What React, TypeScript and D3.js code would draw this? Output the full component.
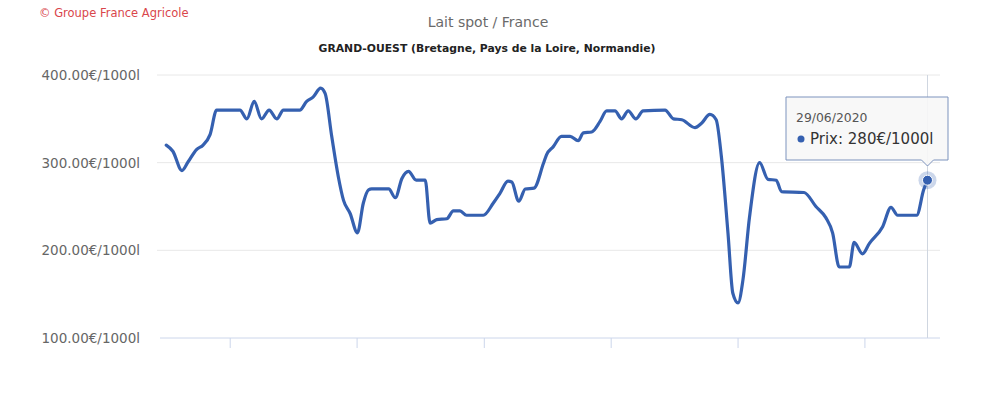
import React from "react";
import * as d3 from "d3";

const dates: string[] = [
  "2014-07-01","2014-07-20","2014-08-15","2014-09-02","2014-09-26","2014-10-15","2014-11-04","2014-11-23",
  "2015-01-29","2015-02-18","2015-03-11","2015-04-01","2015-04-23","2015-05-15","2015-06-03","2015-07-20",
  "2015-08-09","2015-08-28","2015-09-18","2015-10-01","2015-10-20","2015-11-08","2015-11-23","2015-12-12",
  "2016-01-02","2016-01-19","2016-02-03","2016-02-12","2016-04-01","2016-04-20","2016-05-09","2016-05-28",
  "2016-06-19","2016-07-15","2016-07-29","2016-08-17","2016-09-15","2016-10-04","2016-10-23","2016-11-11",
  "2016-12-29","2017-01-27","2017-02-15","2017-03-10","2017-03-21","2017-04-10","2017-04-29","2017-05-24",
  "2017-06-20","2017-06-29","2017-07-18","2017-08-11","2017-09-05","2017-09-28","2017-10-13","2017-11-06",
  "2017-11-30","2017-12-19","2018-01-12","2018-01-31","2018-02-19","2018-03-13","2018-04-03","2018-06-05",
  "2018-06-29","2018-07-23","2018-08-30","2018-09-18","2018-10-12","2018-10-30","2018-11-14","2018-12-03",
  "2018-12-17","2019-01-01","2019-01-15","2019-02-03","2019-03-04","2019-03-28","2019-04-21","2019-05-06",
  "2019-07-10","2019-08-13","2019-09-11","2019-09-30","2019-10-19","2019-11-17","2019-12-01","2019-12-25",
  "2020-01-14","2020-02-21","2020-03-16","2020-04-04","2020-05-29","2020-06-18","2020-06-29",
];

const prices: number[] = [
  320, 313, 291, 301, 315, 320, 332, 360,
  360, 350, 370, 350, 360, 350, 360, 360,
  370, 375, 385, 379, 330, 284, 257, 242,
  220, 254, 269, 270, 270, 260, 282, 290,
  280, 280, 231, 235, 236, 245, 245, 240,
  240, 254, 265, 279, 278, 256, 270, 271,
  299, 309, 318, 330, 330, 325, 334, 335,
  347, 359, 359, 350, 359, 350, 359, 360,
  350, 349, 340, 345, 355, 349, 307, 220,
  151, 140, 166, 238, 300, 281, 280, 267,
  266, 250, 237, 220, 181, 181, 209, 196,
  208, 227, 249, 240, 240, 269, 280,
];

const yTicks: number[] = [100, 200, 300, 400];
const xTickYears: number[] = [2015, 2016, 2017, 2018, 2019, 2020];
const xDomain: string[] = ["2014-06-13", "2020-08-04"];

const titleText = "Lait spot / France";
const subtitleText = "GRAND-OUEST (Bretagne, Pays de la Loire, Normandie)";
const creditText = "© Groupe France Agricole";
const tooltipDate = "29/06/2020";
const tooltipLabel = "Prix: 280€/1000l";

const W = 1000;
const H = 407;
const left = 160;
const right = 940;
const top = 75;
const bottom = 338;

export default function App() {
  const parse = d3.timeParse("%Y-%m-%d");
  const data = dates.map((d, i) => ({ date: parse(d) as Date, v: prices[i] }));
  const x = d3.scaleTime().domain(xDomain.map((d) => parse(d) as Date)).range([left, right]);
  const y = d3.scaleLinear().domain([100, 400]).range([bottom, top]);
  const line = d3
    .line<{ date: Date; v: number }>()
    .x((d) => x(d.date))
    .y((d) => y(d.v))
    .curve(d3.curveMonotoneX);
  const last = data[data.length - 1];
  const lx = x(last.date);
  const ly = y(last.v);
  const color = "#3560b0";
  const font = "'DejaVu Sans', 'Open Sans', sans-serif";

  const tipL = 786, tipR = 948, tipT = 97, tipB = 160;

  return (
    <div style={{ position: "absolute", left: 0, top: 0 }}>
      <svg width={W} height={H} style={{ display: "block", background: "#fff" }} fontFamily={font}>
        <text x={39} y={17} fontSize={11.5} fill="#d9464b">{creditText}</text>
        <text x={488} y={27} textAnchor="middle" fontSize={14} fill="#6a6a6a">{titleText}</text>
        <text x={487} y={52} textAnchor="middle" fontSize={10.8} fontWeight="bold" fill="#222">{subtitleText}</text>

        {yTicks.map((t) => (
          <g key={t}>
            {t !== 100 && (
              <line x1={157} x2={right} y1={y(t)} y2={y(t)} stroke="#e8e8e8" strokeWidth={1} />
            )}
            <text x={140} y={y(t) + 5} textAnchor="end" fontSize={13.5} fill="#666">
              {t.toFixed(2) + "€/1000l"}
            </text>
          </g>
        ))}

        <line x1={lx} x2={lx} y1={top} y2={bottom} stroke="#cfd6e0" strokeWidth={1} />
        <line x1={left} x2={right} y1={bottom} y2={bottom} stroke="#ccd6eb" strokeWidth={1} />
        {xTickYears.map((yr) => {
          const xx = x(new Date(yr, 0, 1));
          return <line key={yr} x1={xx} x2={xx} y1={bottom} y2={bottom + 10} stroke="#ccd6eb" strokeWidth={1} />;
        })}

        <path d={line(data) || ""} fill="none" stroke={color} strokeWidth={3.2} strokeLinejoin="round" strokeLinecap="round" />

        <circle cx={lx} cy={ly} r={9} fill={color} opacity={0.25} />
        <circle cx={lx} cy={ly} r={5} fill={color} stroke="#fff" strokeWidth={1} />

        <path
          d={`M${tipL},${tipT} H${tipR} V${tipB} H${lx + 6} L${lx},${tipB + 6} L${lx - 6},${tipB} H${tipL} Z`}
          fill="#f7f7f7"
          fillOpacity={0.9}
          stroke="#7d93bd"
          strokeWidth={1}
        />
        <text x={796} y={122} fontSize={12.4} fill="#555">{tooltipDate}</text>
        <circle cx={801} cy={139} r={3.5} fill={color} />
        <text x={810} y={144} fontSize={15} fill="#333">{tooltipLabel}</text>
      </svg>
    </div>
  );
}
